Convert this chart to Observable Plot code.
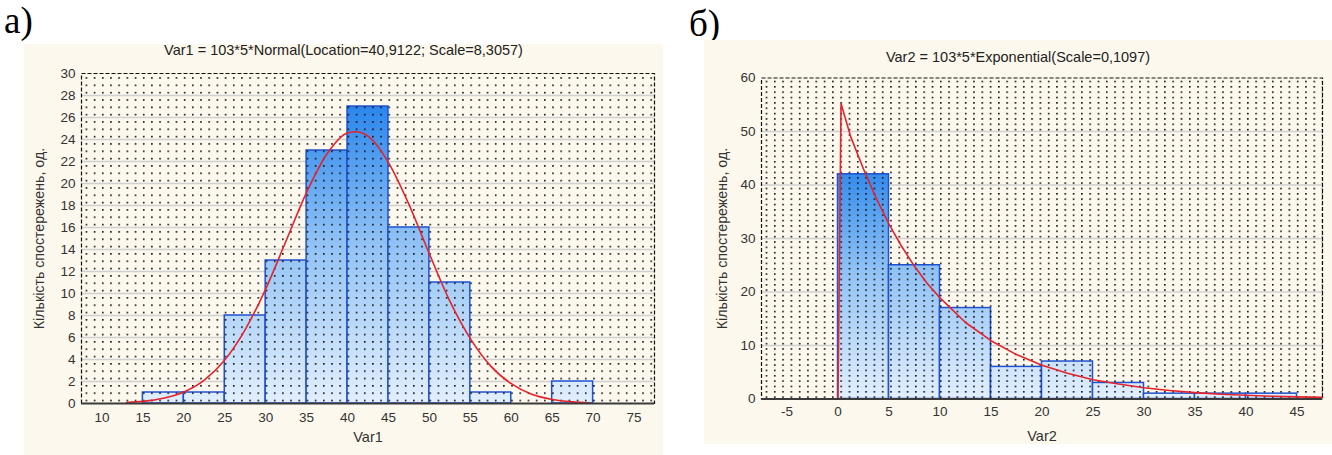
<!DOCTYPE html>
<html>
<head>
<meta charset="utf-8">
<script src="https://cdn.jsdelivr.net/npm/d3@7"></script>
<script src="https://cdn.jsdelivr.net/npm/@observablehq/plot@0.6"></script>
<style>
  html, body { margin: 0; padding: 0; background: #fff; }
  #page { position: relative; width: 1332px; height: 455px; overflow: hidden; font-family: "Liberation Sans", Arial, sans-serif; }
  .tag { position: absolute; font-family: "Liberation Serif", "Times New Roman", serif; font-size: 37px; line-height: 42px; color: #000; }
  .panel { position: absolute; background: #fdf8ed; }
  .title { position: absolute; left: 0; right: 0; text-align: center; font-size: 14.5px; line-height: 16px; color: #222; }
  .chart { position: absolute; left: 0; }
</style>
</head>
<body>
<div id="page">
  <div class="tag" style="left:4px; top:0px;">а)</div>
  <div class="tag" style="left:689px; top:3px;">б)</div>
  <div class="panel" id="panelL" style="left:24px; top:44px; width:639px; height:411px;">
    <div class="title" style="top:-2px;">Var1 = 103*5*Normal(Location=40,9122; Scale=8,3057)</div>
    <div class="chart" id="chartL" style="top:18px;"></div>
  </div>
  <div class="panel" id="panelR" style="left:704px; top:40px; width:628px; height:404px;">
    <div class="title" style="top:9px;">Var2 = 103*5*Exponential(Scale=0,1097)</div>
    <div class="chart" id="chartR" style="top:26px;"></div>
  </div>
</div>
<script>
// ---------- data: Var1 (left) ----------
const var1BinStart = [15, 20, 25, 30, 35, 40, 45, 50, 55, 60, 65];
const var1Counts   = [1, 1, 8, 13, 23, 27, 16, 11, 1, 0, 2];
const var1CurveX   = [13, 15, 17.5, 20, 22.5, 25, 27.5, 30, 32.5, 35, 37.5, 40, 41, 42.5, 45, 47.5, 50, 52.5, 55, 57.5, 60, 62.5, 65, 67.5, 69.5];
const var1CurveY   = [0.09, 0.19, 0.47, 1.04, 2.12, 3.95, 6.72, 10.4, 14.8, 19.2, 22.7, 24.6, 24.7, 24.3, 21.9, 18.1, 13.6, 9.3, 5.9, 3.4, 1.8, 0.84, 0.37, 0.15, 0.06];
const var1XTicks   = [10, 15, 20, 25, 30, 35, 40, 45, 50, 55, 60, 65, 70, 75];
const var1YTicks   = [0, 2, 4, 6, 8, 10, 12, 14, 16, 18, 20, 22, 24, 26, 28, 30];

// ---------- data: Var2 (right) ----------
const var2BinStart = [0, 5, 10, 15, 20, 25, 30, 35, 40];
const var2Counts   = [42, 25, 17, 6, 7, 3, 1, 1, 1];
const var2CurveX   = [0, 0.3, 1.25, 2.5, 3.75, 5, 6.25, 7.5, 8.75, 10, 12.5, 15, 17.5, 20, 22.5, 25, 27.5, 30, 32.5, 35, 37.5, 40, 42.5, 45, 47.5];
const var2CurveY   = [0, 55.2, 49.0, 43.0, 37.5, 32.7, 28.5, 24.8, 21.6, 18.9, 14.3, 10.9, 8.3, 6.3, 4.8, 3.6, 2.8, 2.1, 1.6, 1.2, 0.9, 0.7, 0.5, 0.4, 0.3];
const var2XTicks   = [-5, 0, 5, 10, 15, 20, 25, 30, 35, 40, 45];
const var2YTicks   = [0, 10, 20, 30, 40, 50, 60];

const binWidth = 5;
const yLabel = "Кількість спостережень, од.";

function makeChart(cfg) {
  const bins = cfg.starts.map((s, i) => ({x1: s, x2: s + binWidth, count: cfg.counts[i]})).filter(d => d.count > 0);
  const curve = cfg.curveX.map((x, i) => ({x, y: cfg.curveY[i]}));
  const yMax = cfg.yTicks[cfg.yTicks.length - 1];
  const grid = cfg.yTicks.filter(v => v > 0 && v < yMax);
  const plot = Plot.plot({
    width: cfg.width, height: cfg.height,
    marginLeft: cfg.ml, marginRight: cfg.mr, marginTop: cfg.mt, marginBottom: cfg.mb,
    style: {background: "transparent", fontFamily: "'Liberation Sans', Arial, sans-serif", fontSize: "13.5px", color: "#333", overflow: "visible"},
    x: {domain: cfg.xDomain},
    y: {domain: [0, yMax]},
    marks: [
      Plot.ruleY(grid, {stroke: "#d0d0d0", strokeWidth: 1.5}),
      Plot.rect(bins, {x1: "x1", x2: "x2", y1: 0, y2: "count", fill: "url(#grad" + cfg.id + ")", stroke: "#1f52d2", strokeWidth: 1.5}),
      Plot.frame({fill: "url(#dots" + cfg.id + ")", stroke: "none"}),
      Plot.line(curve, {x: "x", y: "y", stroke: "#e6222b", strokeWidth: 1.6, curve: cfg.curveType}),
      Plot.frame({stroke: "#111", strokeWidth: 1.2, strokeDasharray: "4,2"}),
      Plot.ruleY([0], {stroke: "#3a3a3a", strokeWidth: 2}),
      Plot.axisX(cfg.xTicks, {tickSize: 0, tickPadding: cfg.xPad, tickFormat: d => String(d), label: null, fontSize: 13.5}),
      Plot.axisY(cfg.yTicks, {tickSize: 0, tickPadding: 6, tickFormat: d => String(d), label: null, fontSize: 13.5}),
      Plot.text([cfg.xLabel], {frameAnchor: "bottom", lineAnchor: "middle", dy: cfg.xLabelDy, fontSize: 14.5, fill: "#333"}),
      Plot.text([yLabel], {frameAnchor: "left", textAnchor: "middle", lineAnchor: "middle", rotate: -90, dx: cfg.yLabelDx, fontSize: 14.2, fill: "#333"})
    ]
  });
  const xs = plot.scale("x"), ys = plot.scale("y");
  const X = v => xs.apply(v), Y = v => ys.apply(v);
  const svg = d3.select(plot);
  const defs = svg.insert("defs", ":first-child");
  const g = defs.append("linearGradient").attr("id", "grad" + cfg.id)
    .attr("gradientUnits", "userSpaceOnUse")
    .attr("x1", 0).attr("x2", 0).attr("y1", Y(0)).attr("y2", Y(cfg.gradTop));
  g.append("stop").attr("offset", "0%").attr("stop-color", "#e2effd");
  g.append("stop").attr("offset", "55%").attr("stop-color", "#8fc1f5");
  g.append("stop").attr("offset", "100%").attr("stop-color", "#2a86ec");
  const pw = cfg.dotW != null ? cfg.dotW : (X(1) - X(0));
  const ph = cfg.dotH;
  const p = defs.append("pattern").attr("id", "dots" + cfg.id)
    .attr("patternUnits", "userSpaceOnUse")
    .attr("x", X(cfg.xDomain[0]) + pw / 2).attr("y", Y(yMax) + ph / 2)
    .attr("width", pw).attr("height", ph);
  p.append("rect").attr("x", 0).attr("y", 0).attr("width", 1.6).attr("height", 1.6).attr("fill", "#111");
  return plot;
}

const chartL = makeChart({
  id: "L", starts: var1BinStart, counts: var1Counts, curveX: var1CurveX, curveY: var1CurveY,
  xTicks: var1XTicks, yTicks: var1YTicks, xDomain: [7.5, 77.5], curveType: "monotone-x",
  width: 639, height: 391, ml: 57, mr: 9, mt: 11, mb: 50,
  xPad: 9, xLabel: "Var1", xLabelDy: 34, yLabelDx: -42, gradTop: 27,
  dotW: null, dotH: 7.33
});
document.getElementById("chartL").appendChild(chartL);

const chartR = makeChart({
  id: "R", starts: var2BinStart, counts: var2Counts, curveX: var2CurveX, curveY: var2CurveY,
  xTicks: var2XTicks, yTicks: var2YTicks, xDomain: [-7.5, 47.5], curveType: "linear",
  width: 628, height: 378, ml: 57, mr: 10, mt: 11.5, mb: 45.5,
  xPad: 7.5, xLabel: "Var2", xLabelDy: 37.5, yLabelDx: -39, gradTop: 44,
  dotW: 8.3, dotH: 5.35
});
document.getElementById("chartR").appendChild(chartR);
</script>
</body>
</html>
